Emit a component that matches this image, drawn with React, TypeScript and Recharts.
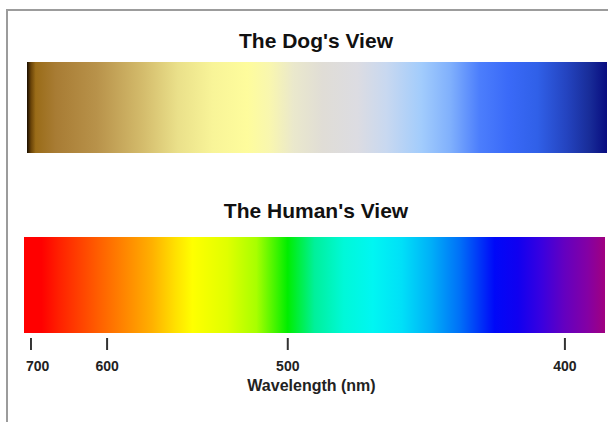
import React from 'react'
import { BarChart, Bar, XAxis, YAxis } from 'recharts'

// two spectrum strips
const views = ['The Dog\'s View', 'The Human\'s View']
const dogRow = [{ name: 'dog', span: [0, 100] }]
const humanRow = [{ name: 'human', span: [0, 100] }]

// tick positions along the strip (% of width) and their wavelength labels
const tickPos = [1.2, 14.3, 45.4, 93.1]
const wavelengths = ['700', '600', '500', '400']

// gradient stops: [offset %, colour]
const dogStops: [number, string][] = [
  [0, '#1a0e00'],
  [0.7, '#6a4408'],
  [1.5, '#9a6c18'],
  [5, '#a87c34'],
  [12, '#b8924a'],
  [20, '#d4bc6c'],
  [26, '#eae08a'],
  [32, '#f8f498'],
  [38, '#fefc9c'],
  [42, '#f8f6b0'],
  [46, '#eae8cc'],
  [51, '#e0ddd6'],
  [57, '#dcdce2'],
  [62, '#c8d8f0'],
  [68, '#a2ccfc'],
  [73, '#80b0fc'],
  [78, '#4c7efc'],
  [83, '#3a6af8'],
  [88, '#3060e8'],
  [93, '#2444c0'],
  [97, '#182c98'],
  [100, '#080c80'],
]

const humanStops: [number, string][] = [
  [0, '#ff0000'],
  [3, '#ff0000'],
  [6, '#ff2000'],
  [13, '#ff6000'],
  [18, '#ff8c00'],
  [22, '#ffb000'],
  [26, '#ffe000'],
  [29, '#ffff00'],
  [35, '#e0ff00'],
  [40, '#a8ff00'],
  [45.4, '#00ee00'],
  [50, '#00f09a'],
  [55, '#00f8d8'],
  [60, '#00f6f2'],
  [65, '#00e0f8'],
  [70, '#00b0f8'],
  [75, '#0070f8'],
  [81, '#0008f8'],
  [85, '#1000f0'],
  [89, '#3800e0'],
  [93, '#6400c0'],
  [97, '#8400a4'],
  [100, '#a00080'],
]

const font = '"Liberation Sans", Arial, sans-serif'

const titleStyle: React.CSSProperties = {
  position: 'absolute',
  left: 0,
  width: 632,
  textAlign: 'center',
  fontFamily: font,
  fontWeight: 'bold',
  fontSize: 21,
  lineHeight: '21px',
  color: '#111',
}

const WaveTick = (props: any) => {
  const { x, y, index } = props
  const first = index === 0
  return (
    <g>
      <line x1={x} x2={x} y1={y + 5} y2={y + 17} stroke="#333" strokeWidth={2} />
      <text
        x={first ? x - 5 : x}
        y={y + 38}
        textAnchor={first ? 'start' : 'middle'}
        fontFamily={font}
        fontWeight="bold"
        fontSize={14}
        fill="#222"
      >
        {wavelengths[index]}
      </text>
    </g>
  )
}

const AxisTitle = (props: any) => {
  const vb = props.viewBox
  return (
    <text
      x={vb.x + vb.width / 2 - 3}
      y={vb.y + 58}
      textAnchor="middle"
      fontFamily={font}
      fontWeight="bold"
      fontSize={16}
      fill="#222"
    >
      Wavelength (nm)
    </text>
  )
}

function Gradient({ id, stops }: { id: string; stops: [number, string][] }) {
  return (
    <defs>
      <linearGradient id={id} x1="0" y1="0" x2="1" y2="0">
        {stops.map(([o, c]) => (
          <stop key={o} offset={`${o}%`} stopColor={c} />
        ))}
      </linearGradient>
    </defs>
  )
}

export default function App() {
  return (
    <div
      style={{
        position: 'absolute',
        left: 0,
        top: 0,
        width: 608,
        height: 422,
        overflow: 'hidden',
        background: '#fff',
      }}
    >
      <div
        style={{
          position: 'absolute',
          left: 6,
          top: 9,
          width: 700,
          height: 600,
          border: '2px solid #9c9c9c',
        }}
      />
      <div style={{ ...titleStyle, top: 30 }}>{views[0]}</div>
      <div style={{ ...titleStyle, top: 200 }}>{views[1]}</div>

      <div style={{ position: 'absolute', left: 0, top: 0 }}>
        <BarChart
          width={608}
          height={160}
          data={dogRow}
          layout="vertical"
          barCategoryGap={0}
          margin={{ top: 62, right: 1, bottom: 7, left: 27 }}
        >
          <Gradient id="dogGrad" stops={dogStops} />
          <XAxis type="number" domain={[0, 100]} hide />
          <YAxis type="category" dataKey="name" hide />
          <Bar dataKey="span" fill="url(#dogGrad)" isAnimationActive={false} />
        </BarChart>
      </div>

      <div style={{ position: 'absolute', left: 0, top: 0 }}>
        <BarChart
          width={608}
          height={422}
          data={humanRow}
          layout="vertical"
          barCategoryGap={0}
          margin={{ top: 237, right: 3, bottom: 0, left: 24 }}
        >
          <Gradient id="humanGrad" stops={humanStops} />
          <XAxis
            type="number"
            domain={[0, 100]}
            ticks={tickPos}
            interval={0}
            axisLine={false}
            tickLine={false}
            tickSize={0}
            tickMargin={0}
            height={89}
            tick={<WaveTick />}
            label={<AxisTitle />}
          />
          <YAxis type="category" dataKey="name" hide />
          <Bar dataKey="span" fill="url(#humanGrad)" isAnimationActive={false} />
        </BarChart>
      </div>
    </div>
  )
}
